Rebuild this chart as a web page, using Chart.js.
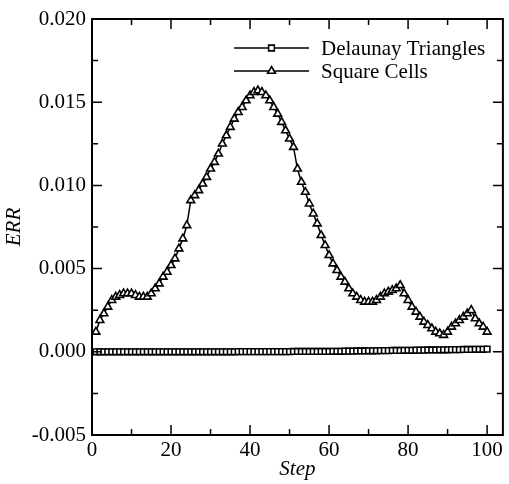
<!DOCTYPE html>
<html>
<head>
<meta charset="utf-8">
<script src="https://cdn.jsdelivr.net/npm/chart.js@4.4.1/dist/chart.umd.min.js"></script>
<style>
  html, body { margin: 0; padding: 0; background: #fff; }
</style>
</head>
<body>
<canvas id="errChart" width="509" height="484"></canvas>
<script>
'use strict'

// data
const steps = [
  1, 2, 3, 4, 5, 6, 7, 8, 9, 10,
  11, 12, 13, 14, 15, 16, 17, 18, 19, 20,
  21, 22, 23, 24, 25, 26, 27, 28, 29, 30,
  31, 32, 33, 34, 35, 36, 37, 38, 39, 40,
  41, 42, 43, 44, 45, 46, 47, 48, 49, 50,
  51, 52, 53, 54, 55, 56, 57, 58, 59, 60,
  61, 62, 63, 64, 65, 66, 67, 68, 69, 70,
  71, 72, 73, 74, 75, 76, 77, 78, 79, 80,
  81, 82, 83, 84, 85, 86, 87, 88, 89, 90,
  91, 92, 93, 94, 95, 96, 97, 98, 99, 100
];

const delaunayErr = [
  0, 0, 0, 0, 0, 0, 0, 0, 0, 0,
  0, 0, 0, 0, 0, 0, 0, 0, 0, 0,
  0, 0, 0, 0, 0, 0, 0, 0, 0, 0,
  0, 0, 0, 0, 0, 0, 0.00001, 0.00001, 0.00001, 0.00001,
  0.00001, 0.00001, 0.00001, 0.00001, 0.00001, 0.00001, 0.00001, 0.00001, 0.00001, 0.00001,
  0.00002, 0.00002, 0.00002, 0.00002, 0.00002, 0.00002, 0.00002, 0.00002, 0.00002, 0.00002,
  0.00003, 0.00003, 0.00003, 0.00004, 0.00004, 0.00004, 0.00005, 0.00005, 0.00005, 0.00006,
  0.00006, 0.00006, 0.00007, 0.00007, 0.00007, 0.00008, 0.00008, 0.00008, 0.00009, 0.00009,
  0.00009, 0.0001, 0.0001, 0.0001, 0.00011, 0.00011, 0.00011, 0.00012, 0.00012, 0.00012,
  0.00013, 0.00013, 0.00013, 0.00014, 0.00014, 0.00014, 0.00015, 0.00015, 0.00015, 0.00016
];

const squareErr = [
  0.0012, 0.0019, 0.0023, 0.0027, 0.0031, 0.0033, 0.0034, 0.0035, 0.0035, 0.0035,
  0.0034, 0.0033, 0.0033, 0.0033, 0.0035, 0.0038, 0.0041, 0.0045, 0.0048, 0.0052,
  0.0056, 0.0062, 0.0068, 0.0076, 0.0091, 0.0094, 0.0097, 0.0101, 0.0105, 0.0110,
  0.0114, 0.0119, 0.0125, 0.0130, 0.0135, 0.0140, 0.0144, 0.0147, 0.0151, 0.0154,
  0.0156, 0.0157, 0.0156, 0.0154, 0.0151, 0.0147, 0.0143, 0.0138, 0.0133, 0.0128,
  0.0123, 0.0110, 0.0102, 0.0096, 0.0089, 0.0083, 0.0077, 0.0070, 0.0064, 0.0058,
  0.0053, 0.0049, 0.0045, 0.0042, 0.0038, 0.0035, 0.0033, 0.0031, 0.0030, 0.0030,
  0.0030, 0.0031, 0.0033, 0.0035, 0.0036, 0.0037, 0.0038, 0.0040, 0.0035, 0.0031,
  0.0027, 0.0024, 0.0021, 0.0018, 0.0016, 0.0014, 0.0012, 0.0011, 0.0010, 0.0012,
  0.0015, 0.0017, 0.0019, 0.0021, 0.0023, 0.0025, 0.0020, 0.0017, 0.0015, 0.0012
];

const seriesNames = ['Delaunay Triangles', 'Square Cells'];
const xTicks = [0, 20, 40, 60, 80, 100];
const xMinorTicks = [10, 30, 50, 70, 90];
const yTicks = [-0.005, 0, 0.005, 0.01, 0.015, 0.02];
const yMinorTicks = [-0.0025, 0.0025, 0.0075, 0.0125, 0.0175];

const FONT = "'Liberation Serif', 'Times New Roman', serif";
Chart.defaults.font.family = FONT;
Chart.defaults.font.size = 21;
Chart.defaults.color = '#000';

// ticks pointing inwards on all four sides + the frame
const frameTicks = {
  id: 'frameTicks',
  afterDatasetsDraw(chart) {
    const {ctx, chartArea: a, scales: {x, y}} = chart;
    ctx.save();
    ctx.strokeStyle = '#000';
    ctx.lineWidth = 1.5;
    ctx.beginPath();
    const tx = (v, len) => {
      const px = x.getPixelForValue(v);
      ctx.moveTo(px, a.bottom); ctx.lineTo(px, a.bottom - len);
      ctx.moveTo(px, a.top); ctx.lineTo(px, a.top + len);
    };
    const ty = (v, len) => {
      const py = y.getPixelForValue(v);
      ctx.moveTo(a.left, py); ctx.lineTo(a.left + len, py);
      ctx.moveTo(a.right, py); ctx.lineTo(a.right - len, py);
    };
    xTicks.forEach(v => tx(v, 10));
    xMinorTicks.forEach(v => tx(v, 6));
    yTicks.forEach(v => ty(v, 10));
    yMinorTicks.forEach(v => ty(v, 6));
    ctx.stroke();
    ctx.lineWidth = 2;
    ctx.strokeRect(a.left, a.top, a.right - a.left, a.bottom - a.top);
    ctx.restore();
  }
};

// legend inside the plot, top right
const insideLegend = {
  id: 'insideLegend',
  afterDraw(chart) {
    const {ctx, chartArea: a} = chart;
    ctx.save();
    chart.data.datasets.forEach((ds, i) => {
      const yy = a.top + 29 + i * 23;
      const x0 = a.left + 142;
      const x1 = a.left + 217;
      ctx.strokeStyle = '#000';
      ctx.lineWidth = 1.5;
      ctx.beginPath();
      ctx.moveTo(x0, yy);
      ctx.lineTo(x1, yy);
      ctx.stroke();
      ctx.fillStyle = '#fff';
      ctx.strokeStyle = '#000';
      ctx.lineWidth = ds.pointBorderWidth;
      Chart.helpers.drawPoint(ctx, {
        pointStyle: ds.pointStyle,
        radius: ds.pointRadius,
        rotation: 0,
        borderWidth: ds.pointBorderWidth
      }, (x0 + x1) / 2, yy);
      ctx.fillStyle = '#000';
      ctx.font = '21px ' + FONT;
      ctx.textAlign = 'left';
      ctx.textBaseline = 'middle';
      ctx.fillText(ds.label, x1 + 12, yy + 1);
    });
    ctx.restore();
  }
};

const ctx = document.getElementById('errChart');
const errChart = new Chart(ctx, {
  type: 'line',
  data: {
    datasets: [
      {
        label: seriesNames[0],
        data: steps.map((s, i) => ({x: s, y: delaunayErr[i]})),
        borderColor: '#000',
        borderWidth: 1.5,
        pointStyle: 'rect',
        pointRadius: 4,
        pointBorderWidth: 1.6,
        pointBackgroundColor: '#fff',
        pointBorderColor: '#000',
        tension: 0
      },
      {
        label: seriesNames[1],
        data: steps.map((s, i) => ({x: s, y: squareErr[i]})),
        borderColor: '#000',
        borderWidth: 1.5,
        pointStyle: 'triangle',
        pointRadius: 4.5,
        pointBorderWidth: 1.6,
        pointBackgroundColor: '#fff',
        pointBorderColor: '#000',
        tension: 0
      }
    ]
  },
  options: {
    responsive: false,
    animation: false,
    devicePixelRatio: 1,
    layout: {
      padding: {top: 19, right: 4, left: 0, bottom: 0}
    },
    scales: {
      x: {
        type: 'linear',
        min: 0,
        max: 104,
        grid: {display: false, drawTicks: false},
        border: {display: false},
        afterBuildTicks: scale => { scale.ticks = xTicks.map(v => ({value: v})); },
        afterFit: scale => { scale.height = 49; },
        ticks: {
          maxRotation: 0,
          padding: 3,
          callback: v => String(v)
        },
        title: {
          display: true,
          text: 'Step',
          font: {style: 'italic', size: 21},
          padding: {top: 0, bottom: 2}
        }
      },
      y: {
        type: 'linear',
        min: -0.005,
        max: 0.02,
        grid: {display: false, drawTicks: false},
        border: {display: false},
        afterBuildTicks: scale => { scale.ticks = yTicks.map(v => ({value: v})); },
        afterFit: scale => { scale.width = 92; },
        ticks: {
          padding: 6,
          callback: v => v.toFixed(3)
        },
        title: {
          display: true,
          text: 'ERR',
          font: {style: 'italic', size: 21},
          padding: {top: 2, bottom: 0}
        }
      }
    },
    plugins: {
      legend: {display: false},
      tooltip: {enabled: false}
    }
  },
  plugins: [frameTicks, insideLegend]
});
</script>
</body>
</html>
